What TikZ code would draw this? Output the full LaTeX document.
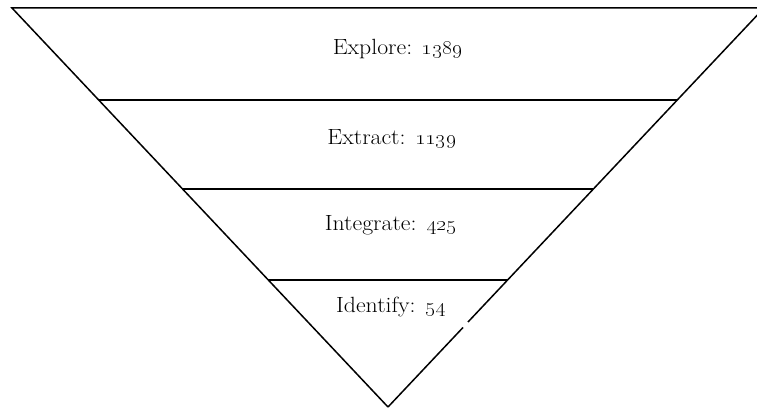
\documentclass[tikz,border=0pt]{standalone}
\begin{document}
\begin{tikzpicture}[x=1pt,y=-1pt,
  funnelline/.style={line width=1.5pt,black},
  tierlabel/.style={font=\fontsize{22}{25}\selectfont,inner sep=0pt,anchor=center,xscale=1.08}]
\useasboundingbox (0,0) rectangle (757,409);
\begin{scope}
\clip (0,0) rectangle (757,409);
% outline of the inverted funnel
\coordinate (tl) at (12,8);
\coordinate (tr) at (764,8);
\coordinate (bot) at (388,407);
\coordinate (gapA) at (468,322);
\coordinate (gapB) at (463,327.5);
\draw[funnelline] (bot) -- (tl) -- (tr) -- (gapA);
\draw[funnelline] (gapB) -- (bot);
% tier dividers
\draw[funnelline] (98.7,100) -- (677.3,100);
\draw[funnelline] (182.6,189) -- (593.4,189);
\draw[funnelline] (268.3,280) -- (507.7,280);
\end{scope}
% tier labels
\node[tierlabel] (explore) at (398,49) {Explore: \oldstylenums{1389}};
\node[tierlabel] (extract) at (392,139) {Extract: \oldstylenums{1139}};
\node[tierlabel] (integrate) at (391,225) {Integrate: \oldstylenums{425}};
\node[tierlabel] (identify) at (391,307) {Identify: \oldstylenums{54}};
\end{tikzpicture}
\end{document}
